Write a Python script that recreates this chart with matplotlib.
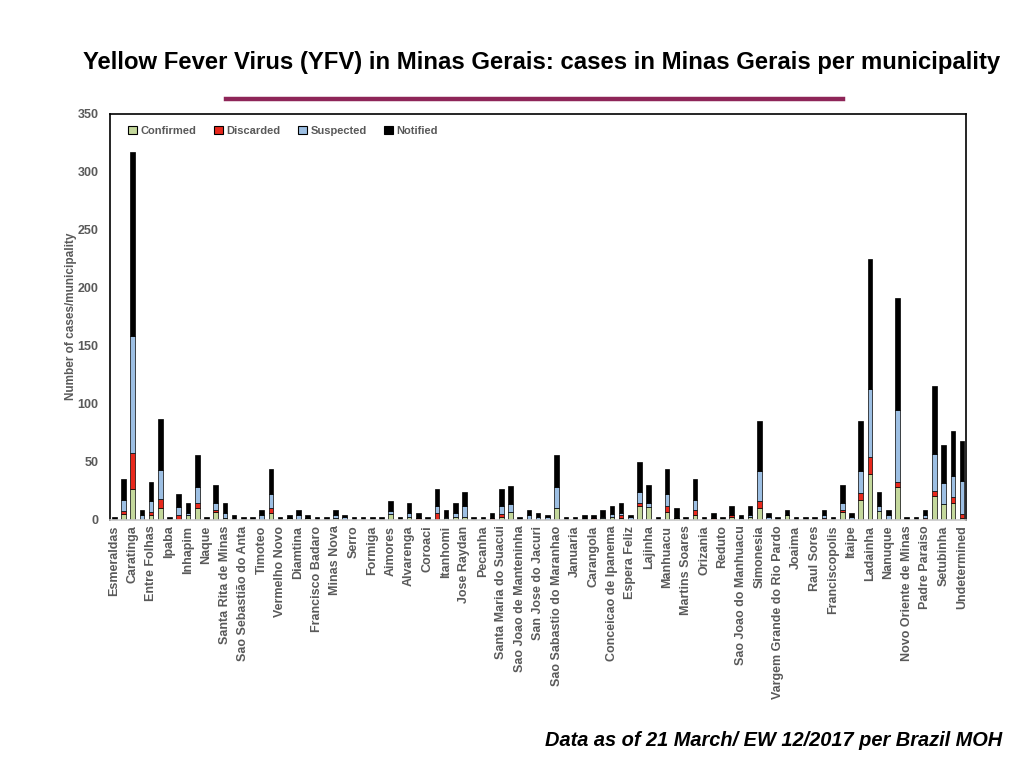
import numpy as np
import matplotlib
matplotlib.use('Agg')
import matplotlib.pyplot as plt
from matplotlib.patches import Patch
from matplotlib.lines import Line2D

plt.rcParams['font.family'] = ['Liberation Sans', 'DejaVu Sans']

# municipios (solo los que tienen etiqueta visible, uno de cada dos barras)
etiquetas = ['Esmeraldas', 'Caratinga', 'Entre Folhas', 'Ipaba', 'Inhapim', 'Naque',
             'Santa Rita de Minas', 'Sao Sebastião do Anta', 'Timoteo', 'Vermelho Novo',
             'Diamtina', 'Francisco Badaro', 'Minas Nova', 'Serro', 'Formiga', 'Aimores',
             'Alvarenga', 'Coroaci', 'Itanhomi', 'Jose Raydan', 'Pecanha',
             'Santa Maria do Suacui', 'Sao Joao de Manteninha', 'San Jose do Jacuri',
             'Sao Sabastio do Maranhao', 'Januaria', 'Carangola', 'Conceicao de Ipanema',
             'Espera Feliz', 'Lajinha', 'Manhuacu', 'Martins Soares', 'Orizania', 'Reduto',
             'Sao Joao do Manhuacu', 'Simonesia', 'Vargem Grande do Rio Pardo', 'Joaima',
             'Raul Sores', 'Franciscopolis', 'Itaipe', 'Ladainha', 'Nanuque',
             'Novo Oriente de Minas', 'Padre Paraiso', 'Setubinha', 'Undetermined']

confirmed = [0, 5, 27, 0, 4, 10, 0, 0, 4, 10, 0, 7, 2, 0, 0, 0, 0, 6, 0, 2,
             0, 2, 0, 0, 2, 0, 0, 0, 0, 0, 5, 0, 3, 0, 0, 0, 2, 3, 3, 0,
             0, 0, 3, 7, 0, 0, 0, 0, 10, 0, 0, 0, 0, 2, 3, 2, 0, 12, 11, 0,
             7, 2, 0, 4, 0, 0, 0, 3, 0, 3, 10, 0, 0, 4, 0, 0, 0, 0, 0, 7,
             0, 17, 40, 8, 0, 28, 0, 0, 0, 21, 14, 15, 2]
discarded = [0, 3, 31, 0, 3, 8, 0, 4, 0, 5, 0, 2, 0, 0, 0, 0, 0, 4, 0, 0,
             0, 0, 0, 0, 0, 0, 0, 0, 0, 0, 0, 0, 0, 2, 0, 6, 0, 0, 0, 0,
             0, 2, 2, 0, 0, 0, 0, 0, 0, 0, 0, 0, 2, 0, 0, 2, 0, 3, 0, 0,
             5, 0, 0, 5, 0, 2, 0, 1, 0, 0, 6, 0, 0, 0, 0, 0, 0, 2, 0, 2,
             0, 6, 14, 0, 0, 5, 0, 0, 2, 4, 0, 5, 3]
suspected = [0, 9, 100, 4, 9, 25, 0, 7, 2, 13, 0, 6, 4, 1, 0, 0, 4, 12, 0, 0,
             4, 0, 0, 0, 2, 3, 0, 0, 0, 0, 3, 0, 3, 0, 0, 6, 1, 3, 9, 0,
             0, 0, 7, 7, 0, 4, 3, 3, 18, 0, 0, 1, 0, 1, 2, 2, 3, 9, 4, 0,
             10, 0, 0, 8, 0, 0, 0, 0, 2, 1, 26, 3, 0, 0, 0, 0, 0, 2, 0, 6,
             3, 19, 59, 4, 4, 62, 0, 0, 2, 32, 18, 18, 29]
notified = [3, 18, 159, 5, 17, 44, 3, 11, 9, 28, 3, 15, 9, 3, 3, 3, 5, 22, 3, 2,
            5, 2, 3, 3, 5, 1, 3, 3, 3, 3, 8, 3, 9, 4, 3, 15, 6, 9, 12, 3,
            3, 4, 15, 15, 3, 5, 3, 1, 28, 3, 3, 3, 2, 6, 7, 9, 1, 26, 15, 3,
            22, 8, 3, 18, 3, 4, 3, 8, 2, 8, 43, 3, 3, 5, 3, 3, 3, 5, 3, 15,
            3, 43, 112, 12, 5, 96, 3, 3, 5, 58, 33, 39, 34]

series = [('Confirmed', confirmed, '#c4d89c'),
          ('Discarded', discarded, '#e8281c'),
          ('Suspected', suspected, '#9dbfe3'),
          ('Notified', notified, '#000000')]

fig = plt.figure(figsize=(10.24, 7.68), dpi=100)
ax = fig.add_axes([109.5 / 1024, 1 - 520 / 768, (966 - 109.5) / 1024, (520 - 113.5) / 768])

x = np.arange(len(confirmed))
base = np.zeros(len(confirmed))
handles = []
for nombre, vals, color in series:
    vals = np.array(vals, dtype=float)
    ax.bar(x, vals, bottom=base, width=0.5, color=color, edgecolor='black', linewidth=0.5)
    base += vals
    handles.append(Patch(facecolor=color, edgecolor='black', linewidth=0.8, label=nombre))

ax.set_xlim(-0.52, len(confirmed) - 0.57)
ax.set_ylim(0, 350)
ax.set_yticks(range(0, 351, 50))
ax.set_xticks(x[::2])
ax.set_xticklabels(etiquetas, rotation=90, fontsize=9, fontweight='bold', color='#595959')
ax.tick_params(axis='x', length=0, pad=4)
ax.tick_params(axis='y', length=0, pad=8, labelsize=9, labelcolor='#595959')
for lab in ax.get_yticklabels():
    lab.set_fontweight('bold')
for s in ['left', 'top', 'right']:
    ax.spines[s].set_linewidth(1.2)
ax.spines['bottom'].set_color('#c8c8c8')
ax.spines['bottom'].set_linewidth(1.2)

ax.set_ylabel('Number of cases/municipality', fontsize=8.5, fontweight='bold', color='#595959', labelpad=0)

leg = ax.legend(handles=handles, loc='upper left', bbox_to_anchor=(0.01, 0.995), ncol=4,
                frameon=False, fontsize=8, handlelength=0.8, handleheight=0.8,
                handletextpad=0.3, columnspacing=1.6)
for t in leg.get_texts():
    t.set_fontweight('bold')
    t.set_color('#595959')

fig.text(542 / 1024, 1 - 62 / 768,
         'Yellow Fever Virus (YFV) in Minas Gerais: cases in Minas Gerais per municipality',
         ha='center', va='center', fontsize=17.2, fontweight='bold')
fig.add_artist(Line2D([226 / 1024, 843 / 1024], [1 - 99 / 768, 1 - 99 / 768],
                      color='#8e2558', linewidth=3.2, transform=fig.transFigure))
fig.text(1002 / 1024, 1 - 741 / 768, 'Data as of 21 March/ EW 12/2017 per Brazil MOH',
         ha='right', va='center', fontsize=14.4, fontweight='bold', style='italic')

fig.savefig('out.png', dpi=100)
